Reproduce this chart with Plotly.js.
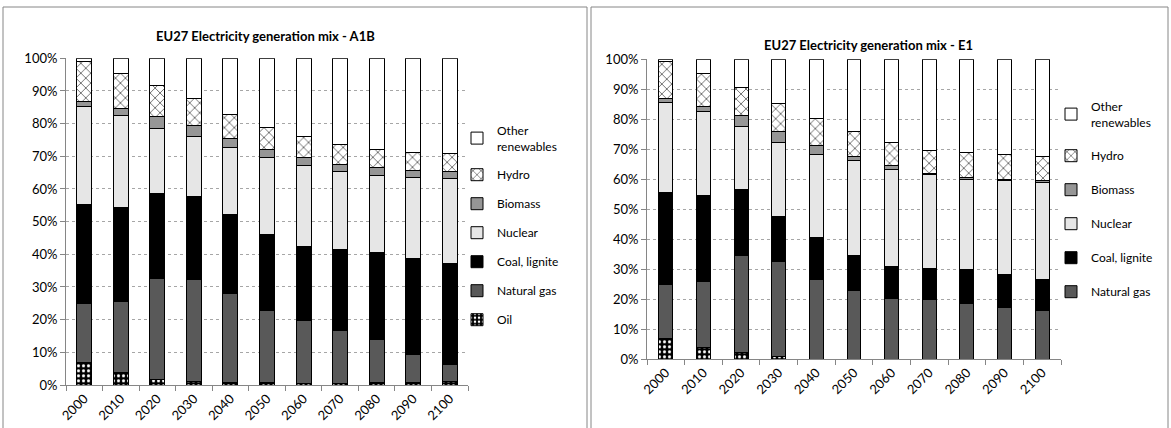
<!DOCTYPE html>
<html>
<head>
<meta charset="utf-8">
<script src="https://cdn.plot.ly/plotly-3.0.1.min.js"></script>
<style>html,body{margin:0;padding:0;background:#fff;}#chart{width:1171px;height:428px;}</style>
</head>
<body>
<div id="chart"></div>
<script>
// ---- data ----
const years = ['2000','2010','2020','2030','2040','2050','2060','2070','2080','2090','2100'];
const seriesNames = ['Oil','Natural gas','Coal, lignite','Nuclear','Biomass','Hydro','Other<br>renewables'];

// Scenario A1B (shares, %)
const a1bOil     = [6.9, 3.8, 1.8, 1.0, 0.8, 0.8, 0.5, 0.5, 0.8, 0.8, 1.1];
const a1bGas     = [17.9, 21.9, 30.9, 31.3, 27.3, 22.0, 19.2, 16.3, 13.0, 8.6, 5.2];
const a1bCoal    = [30.6, 28.7, 26.0, 25.3, 24.1, 23.3, 22.8, 24.7, 26.7, 29.4, 30.9];
const a1bNuclear = [30.0, 28.2, 19.9, 18.4, 20.5, 23.6, 24.8, 23.8, 23.6, 24.8, 26.1];
const a1bBiomass = [1.5, 1.9, 3.5, 3.4, 2.8, 2.4, 2.4, 2.2, 2.4, 2.2, 2.2];
const a1bHydro   = [12.1, 10.7, 9.5, 8.3, 7.4, 6.8, 6.5, 6.2, 5.7, 5.3, 5.4];
const a1bOther   = [1.0, 4.8, 8.4, 12.3, 17.1, 21.1, 23.8, 26.3, 27.8, 28.9, 29.1];

// Scenario E1 (shares, %)
const e1Oil     = [6.9, 3.9, 2.2, 1.0, 0, 0, 0, 0, 0, 0, 0];
const e1Gas     = [18.0, 21.9, 32.5, 31.7, 26.6, 22.8, 20.2, 19.7, 18.6, 17.1, 16.1];
const e1Coal    = [30.7, 28.9, 22.0, 15.0, 13.9, 11.9, 10.8, 10.6, 11.1, 11.2, 10.5];
const e1Nuclear = [30.0, 27.8, 21.0, 24.6, 27.9, 31.5, 32.3, 31.1, 30.3, 31.4, 32.3];
const e1Biomass = [1.4, 1.9, 3.5, 3.5, 3.0, 1.5, 1.1, 0.6, 0.6, 0.2, 0.5];
const e1Hydro   = [12.2, 10.8, 9.5, 9.5, 8.9, 8.1, 7.9, 7.7, 8.2, 8.2, 8.1];
const e1Other   = [0.8, 4.8, 9.3, 14.7, 19.7, 24.2, 27.7, 30.3, 31.2, 31.9, 32.5];

// ---- styles ----
const FONT = 'Lato, "Open Sans", sans-serif';
const styles = [
  {color:'#000000', pattern:{shape:'.', fgcolor:'#ffffff', bgcolor:'#000000', size:5, solidity:0.3}},
  {color:'#595959'},
  {color:'#000000'},
  {color:'#e6e6e6'},
  {color:'#969696'},
  {color:'#ffffff', pattern:{shape:'x', fgcolor:'#000000', bgcolor:'#ffffff', size:7, solidity:0.15}},
  {color:'#ffffff'}
];

function makeTraces(vals, xa, ya, legend, prefix, w, hideOil) {
  return vals.map((v, i) => {
    const st = styles[i];
    const marker = {color: st.color, line:{color:'#000000', width:1}};
    if (st.pattern) marker.pattern = Object.assign({fillmode:'replace'}, st.pattern);
    return {
      type:'bar', x: years, y: v, name: seriesNames[i],
      xaxis: xa, yaxis: ya, legend: legend,
      legendgroup: prefix + i, legendrank: 100 - i,
      showlegend: !(hideOil && i === 0),
      width: w, marker: marker, hoverinfo:'y+name'
    };
  });
}

const traces = [].concat(
  makeTraces([a1bOil,a1bGas,a1bCoal,a1bNuclear,a1bBiomass,a1bHydro,a1bOther],'x','y','legend','L',0.41,false),
  makeTraces([e1Oil,e1Gas,e1Coal,e1Nuclear,e1Biomass,e1Hydro,e1Other],'x2','y2','legend2','R',0.37,true)
);

const W = 1171, H = 428;
const px = x => x / W, py = y => 1 - y / H;

function yax(top, bot) {
  return {
    domain:[py(bot), py(top)], range:[0,100], dtick:10, ticksuffix:'%',
    showline:true, linecolor:'#868686', linewidth:1,
    ticks:'outside', ticklen:5, tickcolor:'#868686',
    showgrid:true, gridcolor:'#a6a6a6', griddash:'dot', gridwidth:1,
    zeroline:false, fixedrange:true,
    tickfont:{family:FONT, size:13, color:'#000'}
  };
}
function xax(l, r, anchor) {
  return {
    domain:[px(l), px(r)], type:'category', anchor: anchor,
    showline:true, linecolor:'#868686', linewidth:1,
    ticks:'outside', ticklen:5, tickcolor:'#868686', tickson:'boundaries',
    tickangle:-45, showgrid:false, fixedrange:true,
    tickfont:{family:FONT, size:13, color:'#000'}
  };
}
function leg(x, y, gap) {
  return {
    x: px(x), y: py(y), xanchor:'left', yanchor:'top',
    traceorder:'grouped', tracegroupgap: gap,
    font:{family:FONT, size:12, color:'#000'},
    bgcolor:'rgba(0,0,0,0)', itemwidth:30
  };
}

const layout = {
  width: W, height: H,
  margin:{l:0,r:0,t:0,b:0},
  paper_bgcolor:'#ffffff', plot_bgcolor:'rgba(0,0,0,0)',
  barmode:'stack', showlegend:true,
  xaxis: xax(66, 468, 'y'),
  yaxis: yax(58.3, 385),
  xaxis2: xax(647, 1061, 'y2'),
  yaxis2: Object.assign(yax(59.3, 359), {anchor:'x2'}),
  legend: leg(457, 116, 10),
  legend2: leg(1051, 92, 15),
  shapes:[
    {type:'rect', xref:'paper', yref:'paper', x0:px(3), x1:px(587), y0:py(440), y1:py(7), line:{color:'#868686', width:1}},
    {type:'rect', xref:'paper', yref:'paper', x0:px(591), x1:px(1168), y0:py(440), y1:py(7), line:{color:'#868686', width:1}}
  ],
  annotations:[
    {text:'<b>EU27 Electricity generation mix - A1B</b>', xref:'paper', yref:'paper', x:px(265), y:py(36), xanchor:'center', yanchor:'middle', showarrow:false, font:{family:FONT, size:13, color:'#000'}},
    {text:'<b>EU27 Electricity generation mix - E1</b>', xref:'paper', yref:'paper', x:px(868), y:py(45), xanchor:'center', yanchor:'middle', showarrow:false, font:{family:FONT, size:13, color:'#000'}}
  ]
};

Plotly.newPlot('chart', traces, layout, {displayModeBar:false, staticPlot:true});
</script>
</body>
</html>
